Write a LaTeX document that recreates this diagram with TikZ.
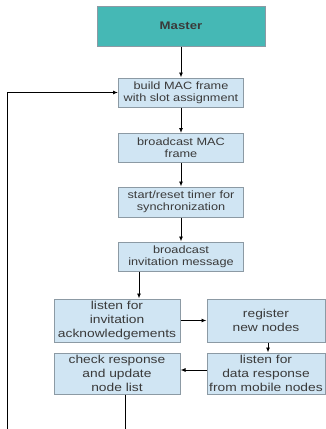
\documentclass[tikz,border=0pt]{standalone}
\usepackage{fontspec}
\setmainfont[FakeStretch=1.2]{Liberation Sans}
\usetikzlibrary{arrows.meta}
\definecolor{masterteal}{HTML}{45B8B5}
\definecolor{stepfill}{HTML}{D0E5F3}
\definecolor{stepedge}{HTML}{8C9AA4}
\definecolor{labeltext}{HTML}{3A3A3A}
\tikzset{
  flowbox/.style={draw=stepedge, line width=1pt, fill=stepfill, inner sep=0pt,
    align=center, text=labeltext},
  upperbox/.style={flowbox, minimum width=125pt,
    font=\fontsize{10.6}{12}\selectfont},
  lowerbox/.style={flowbox, font=\fontsize{11.5}{14}\selectfont},
  masterbox/.style={draw=stepedge, line width=1pt, fill=masterteal,
    minimum width=168pt, minimum height=40pt, text=labeltext,
    font=\fontsize{11}{13}\selectfont\bfseries},
  flow/.style={line width=0.9pt, -{Latex[length=5pt,width=4pt]}},
  plainline/.style={line width=0.9pt}
}
\begin{document}
\begin{tikzpicture}[x=1pt, y=-1pt]
  \useasboundingbox (0,0) rectangle (326,429);

  \node[masterbox] (master) at (181,26) {Master};
  \node[upperbox, minimum height=29pt] (build) at (181,92.5)
    {build MAC frame\\with slot assignment};
  \node[upperbox, minimum height=29pt] (bcast) at (181,148)
    {broadcast MAC\\frame};
  \node[upperbox, minimum height=30pt] (timer) at (181,202)
    {start/reset timer for\\synchronization};
  \node[upperbox, minimum height=29pt] (invite) at (181,256.5)
    {broadcast\\invitation message};

  \node[lowerbox, minimum width=126pt, minimum height=43pt] (listen) at (117,320.5)
    {listen for\\invitation\\acknowledgements};
  \node[lowerbox, minimum width=118pt, minimum height=43pt] (register) at (266,320.5)
    {register\\new nodes};
  \node[lowerbox, minimum width=118pt, minimum height=41pt] (data) at (266,373.5)
    {listen for\\data response\\from mobile nodes};
  \node[lowerbox, minimum width=126pt, minimum height=41pt] (check) at (117,373.5)
    {check response\\and update\\node list};

  % main sequence
  \draw[flow] (master) -- (build);
  \draw[flow] (build) -- (bcast);
  \draw[flow] (bcast) -- (timer);
  \draw[flow] (timer) -- (invite);
  \coordinate (inviteout) at (139,0);
  \draw[flow] (invite.south -| inviteout) -- (listen.north -| inviteout);
  \draw[flow] (listen) -- (register);
  \coordinate (regout) at (268,0);
  \draw[flow] (register.south -| regout) -- (data.north -| regout);
  \coordinate (datarow) at (0,370);
  \draw[flow] (data.west |- datarow) -- (check.east |- datarow);

  % loop back to the frame builder
  \coordinate (checkout) at (125,429);
  \coordinate (loopbottom) at (7,429);
  \draw[plainline] (check.south -| checkout) -- (checkout);
  \draw[flow] (loopbottom) |- (build.west);
\end{tikzpicture}
\end{document}
